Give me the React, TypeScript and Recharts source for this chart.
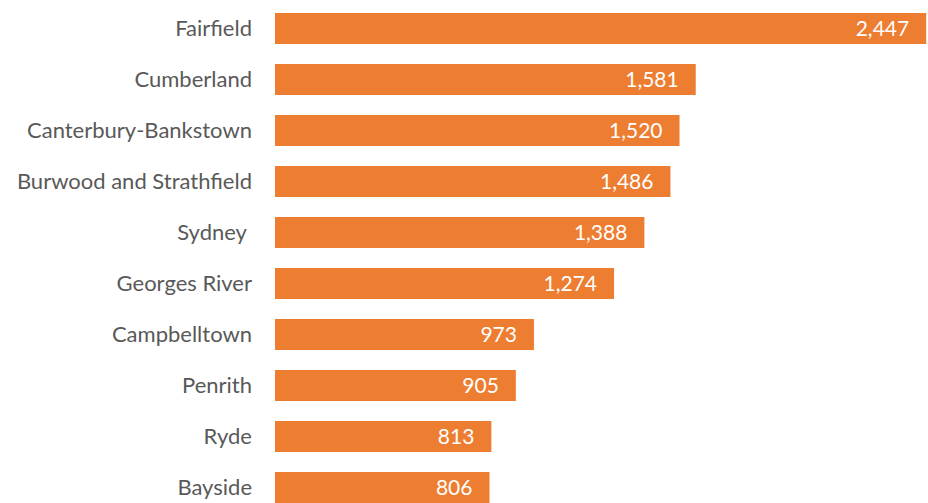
import React from 'react';
import { BarChart, Bar, XAxis, YAxis, LabelList } from 'recharts';

const categories = [
  'Fairfield',
  'Cumberland',
  'Canterbury-Bankstown',
  'Burwood and Strathfield',
  'Sydney\u00A0',
  'Georges River',
  'Campbelltown',
  'Penrith',
  'Ryde',
  'Bayside',
];
const values = [2447, 1581, 1520, 1486, 1388, 1274, 973, 905, 813, 806];

const data = categories.map((name, i) => ({ name, value: values[i] }));

const FONT = 'Lato, "Open Sans", sans-serif';

export default function App() {
  return (
    <div style={{ position: 'absolute', left: 0, top: 0, width: 928, height: 503, overflow: 'hidden', background: '#fff' }}>
      <BarChart
        width={928}
        height={513}
        data={data}
        layout="vertical"
        margin={{ top: 3, right: 1, bottom: 0, left: 0 }}
        barCategoryGap={0}
      >
        <XAxis type="number" domain={[0, 2450]} hide />
        <YAxis
          type="category"
          dataKey="name"
          width={275}
          axisLine={false}
          tickLine={false}
          tickMargin={17}
          tick={{ fill: '#595959', fontSize: 22, fontFamily: FONT }}
          interval={0}
        />
        <Bar dataKey="value" fill="#ED7D31" barSize={31} isAnimationActive={false}>
          <LabelList
            dataKey="value"
            position="insideRight"
            offset={17}
            fill="#ffffff"
            style={{ fontSize: 21, fontFamily: FONT }}
            formatter={(v: number) => v.toLocaleString('en-US')}
          />
        </Bar>
      </BarChart>
    </div>
  );
}
